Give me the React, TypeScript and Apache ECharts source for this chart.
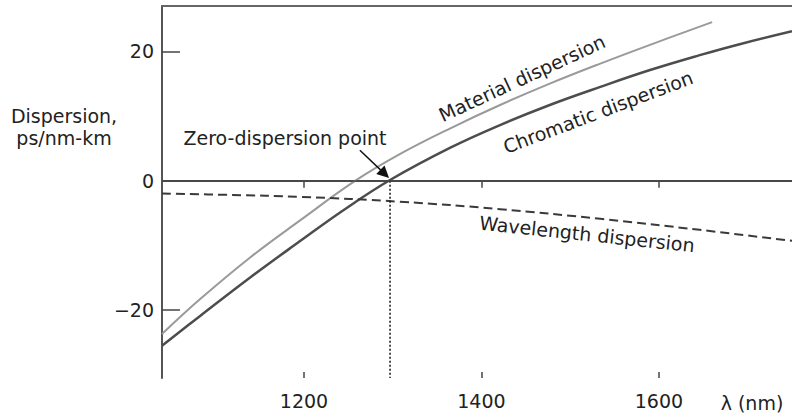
import { useEffect, useRef } from "react";
import * as echarts from "echarts";

const FONT = "DejaVu Sans";
const TEXT = "#222";

// Axis ticks
const xTicks = [1200, 1400, 1600];
const yTicks = [-20, 0, 20];
const yTickMarks = [-20, 20];

// Material dispersion (nm, ps/nm-km)
const materialWavelengths = [1040, 1083, 1139, 1196, 1258, 1308, 1365, 1421, 1477, 1534, 1590, 1660];
const materialValues = [-23.7, -18.3, -11.9, -6.1, 0.0, 4.1, 8.1, 11.7, 15.0, 18.1, 21.0, 24.5];

// Chromatic (total) dispersion
const chromaticWavelengths = [1040, 1083, 1139, 1196, 1244, 1297, 1365, 1421, 1477, 1534, 1590, 1646, 1691, 1750];
const chromaticValues = [-25.5, -20.9, -15.0, -9.3, -4.6, 0.1, 5.1, 8.6, 11.7, 14.5, 17.1, 19.4, 21.1, 23.1];

// Wavelength (waveguide) dispersion
const waveguideWavelengths = [1040, 1117, 1196, 1308, 1421, 1534, 1646, 1750];
const waveguideValues = [-2.0, -2.2, -2.5, -3.25, -4.4, -5.9, -7.6, -9.3];

const zeroDispersionWavelength = 1297;
const arrowFrom = [1263, 4.7];
const arrowTo = [1291, 1.05];

const X_MIN = 1040;
const X_MAX = 1750;
const Y_MIN = -30.5;
const Y_MAX = 27;

const pairs = (xs: number[], ys: number[]) => xs.map((x, i) => [x, ys[i]]);

const minus = (v: number) => (v < 0 ? "\u2212" + Math.abs(v) : String(v));

function textEl(text: string, x: number, y: number, rotation = 0, extra: any = {}) {
  return {
    type: "text",
    x,
    y,
    rotation,
    silent: true,
    style: {
      text,
      fill: TEXT,
      fontFamily: FONT,
      fontSize: 19,
      align: "center",
      verticalAlign: "middle",
      textAlign: "center",
      textVerticalAlign: "middle",
      ...extra,
    },
  };
}

export default function App() {
  const ref = useRef<HTMLDivElement>(null);

  useEffect(() => {
    if (!ref.current) return;
    const chart = echarts.init(ref.current, undefined, { renderer: "svg" });

    const baseX = {
      type: "value",
      min: X_MIN,
      max: X_MAX,
      splitLine: { show: false },
    };

    chart.setOption({
      animation: false,
      backgroundColor: "#fff",
      grid: { left: 162, right: 0, top: 6, bottom: 41, containLabel: false, outerBoundsMode: "none" },
      xAxis: [
        {
          ...baseX,
          position: "bottom",
          axisLine: { show: true, lineStyle: { color: "#555", width: 2 } },
          axisTick: { show: true, inside: false, length: 7, customValues: xTicks, lineStyle: { color: "#444", width: 1.5 } },
          axisLabel: {
            show: true,
            customValues: xTicks,
            formatter: (v: number) => String(v),
            margin: 13,
            fontSize: 19,
            fontFamily: FONT,
            color: TEXT,
          },
        },
        {
          ...baseX,
          position: "bottom",
          axisLine: { show: false },
          axisTick: { show: true, inside: true, length: 6, customValues: xTicks, lineStyle: { color: "#444", width: 1.5 } },
          axisLabel: { show: false },
        },
        {
          ...baseX,
          position: "top",
          axisLine: { show: true, lineStyle: { color: "#666", width: 2 } },
          axisTick: { show: false },
          axisLabel: { show: false },
        },
      ],
      yAxis: {
        type: "value",
        min: Y_MIN,
        max: Y_MAX,
        splitLine: { show: false },
        axisLine: { show: true, lineStyle: { color: "#555", width: 2 } },
        axisTick: { show: true, inside: true, length: 18, customValues: yTickMarks, lineStyle: { color: "#444", width: 1.5 } },
        axisLabel: { show: true, customValues: yTicks, formatter: minus, margin: 8, fontSize: 19, fontFamily: FONT, color: TEXT },
      },
      series: [
        {
          name: "Material dispersion",
          type: "line",
          data: pairs(materialWavelengths, materialValues),
          smooth: 0.4,
          showSymbol: false,
          lineStyle: { color: "#9a9a9a", width: 2 },
          silent: true,
        },
        {
          name: "Chromatic dispersion",
          type: "line",
          data: pairs(chromaticWavelengths, chromaticValues),
          smooth: 0.4,
          showSymbol: false,
          lineStyle: { color: "#4d4d4d", width: 2.5 },
          silent: true,
          markLine: {
            silent: true,
            symbol: "none",
            label: { show: false },
            lineStyle: { color: "#444", width: 1.5, type: "solid" },
            data: [{ yAxis: 0 }],
          },
        },
        {
          name: "Wavelength dispersion",
          type: "line",
          data: pairs(waveguideWavelengths, waveguideValues),
          smooth: 0.4,
          showSymbol: false,
          lineStyle: { color: "#3a3a3a", width: 2, type: [9, 5] },
          silent: true,
        },
        {
          name: "Zero-dispersion point",
          type: "line",
          data: [
            [zeroDispersionWavelength, 0],
            [zeroDispersionWavelength, Y_MIN],
          ],
          showSymbol: false,
          lineStyle: { color: "#111", width: 1.5, type: [2, 2] },
          silent: true,
          markLine: {
            silent: true,
            symbol: ["none", "triangle"],
            symbolSize: 12,
            label: { show: false },
            lineStyle: { color: "#111", width: 1.5, type: "solid" },
            itemStyle: { color: "#111" },
            data: [[{ coord: arrowFrom }, { coord: arrowTo }]],
          },
        },
      ],
      graphic: [
        textEl("Dispersion,\nps/nm-km", 64, 127, 0, { lineHeight: 22 }),
        textEl("Zero-dispersion point", 285, 138),
        textEl("Material dispersion", 522, 78, (24.8 * Math.PI) / 180),
        textEl("Chromatic dispersion", 598, 112, (20.7 * Math.PI) / 180),
        textEl("Wavelength dispersion", 587, 234, (-6 * Math.PI) / 180),
        textEl("\u03bb (nm)", 752, 403),
      ],
    });

    return () => chart.dispose();
  }, []);

  return (
    <div
      ref={ref}
      style={{ position: "fixed", left: 0, top: 0, width: 792, height: 419, background: "#fff" }}
    />
  );
}
